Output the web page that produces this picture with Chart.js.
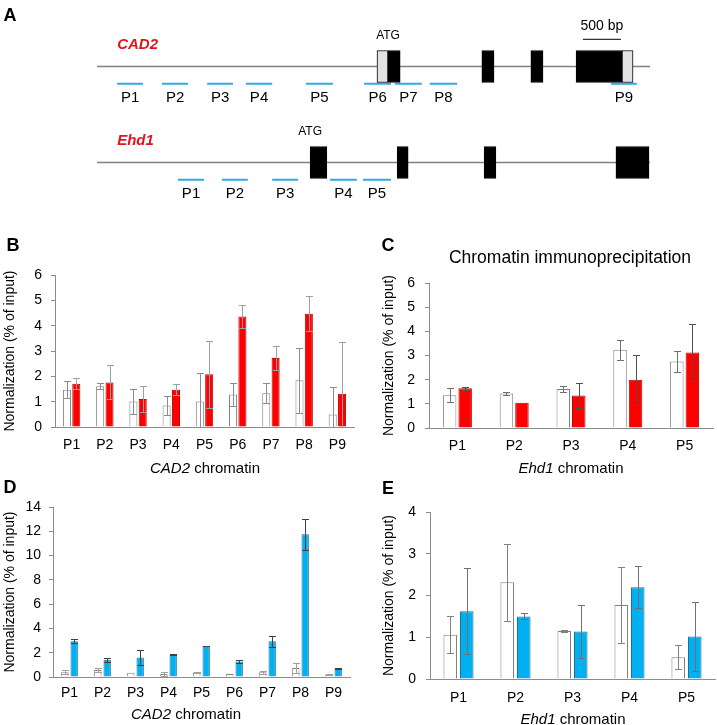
<!DOCTYPE html>
<html>
<head>
<meta charset="utf-8">
<script src="https://cdn.jsdelivr.net/npm/chart.js@4.4.1/dist/chart.umd.min.js"></script>
<style>
  body { margin: 0; background: #fff; }
  #fig { position: relative; width: 717px; height: 725px; overflow: hidden; font-family: "Liberation Sans", Arial, sans-serif; color: #000; }
  canvas { position: absolute; }
  .lbl { position: absolute; transform: translate(-50%, -50%); white-space: nowrap; }
  .panel { font-weight: bold; font-size: 18px; }
  .axt { font-size: 15px; }
</style>
</head>
<body>
<div id="fig">
  <canvas id="genes" width="717" height="225" style="left:0;top:0"></canvas>
  <canvas id="chartB" width="360" height="240" style="left:0;top:240px"></canvas>
  <canvas id="chartC" width="357" height="240" style="left:360px;top:240px"></canvas>
  <canvas id="chartD" width="360" height="247" style="left:0;top:478px"></canvas>
  <canvas id="chartE" width="357" height="247" style="left:360px;top:478px"></canvas>

  <div class="lbl panel" style="left:10px;top:15px">A</div>
  <div class="lbl panel" style="left:13px;top:245px">B</div>
  <div class="lbl panel" style="left:388px;top:245px">C</div>
  <div class="lbl panel" style="left:10px;top:487px">D</div>
  <div class="lbl panel" style="left:388px;top:488px">E</div>

  <div class="lbl" style="left:570px;top:257px;font-size:17.5px">Chromatin immunoprecipitation</div>
  <div class="lbl axt" style="left:205px;top:467px"><i>CAD2</i> chromatin</div>
  <div class="lbl axt" style="left:571px;top:467px"><i>Ehd1</i> chromatin</div>
  <div class="lbl axt" style="left:186px;top:713px"><i>CAD2</i> chromatin</div>
  <div class="lbl axt" style="left:573px;top:718px"><i>Ehd1</i> chromatin</div>
</div>

<script>
// ---- gene maps (panel A), positions in bp ----
const geneNames = ['CAD2', 'Ehd1'];
const geneLength = 7280;
const cadExonStart = [3685, 3830, 5065, 5710, 6305, 6910];
const cadExonEnd   = [3830, 3990, 5225, 5870, 6910, 7055];
const cadExonUtr   = [true, false, false, false, false, true];
const cadProbeStart = [265, 855, 1450, 1960, 2750, 3515, 3920, 4380, 6765];
const cadProbeEnd   = [605, 1200, 1790, 2305, 3105, 3870, 4275, 4740, 7105];
const ehdExonStart = [2805, 3950, 5095, 6830];
const ehdExonEnd   = [3025, 4095, 5250, 7265];
const ehdExonUtr   = [false, false, false, false];
const ehdProbeStart = [1065, 1645, 2305, 3065, 3500];
const ehdProbeEnd   = [1410, 1985, 2645, 3420, 3870];
const atgPos = [3830, 2805];
const scaleBar = [6395, 6895];

// ---- ChIP values (% of input) ----
const cadProbes = ['P1', 'P2', 'P3', 'P4', 'P5', 'P6', 'P7', 'P8', 'P9'];
const ehdProbes = ['P1', 'P2', 'P3', 'P4', 'P5'];

const cadCtrlB    = [1.47, 1.61, 1.01, 0.85, 1.01, 1.28, 1.33, 1.85, 0.49];
const cadCtrlErrB = [0.33, 0.12, 0.49, 0.38, 1.12, 0.45, 0.39, 1.28, 1.08];
const cadRedB     = [1.71, 1.76, 1.11, 1.47, 2.08, 4.36, 2.72, 4.47, 1.31];
const cadRedErrB  = [0.22, 0.67, 0.50, 0.22, 1.32, 0.47, 0.47, 0.69, 2.06];

const ehdCtrlC    = [1.36, 1.43, 1.61, 3.24, 2.75];
const ehdCtrlErrC = [0.29, 0.07, 0.12, 0.41, 0.42];
const ehdRedC     = [1.65, 1.04, 1.35, 2.00, 3.12];
const ehdRedErrC  = [0.06, 0, 0.53, 1.04, 1.17];

const cadCtrlD     = [0.39, 0.58, 0.36, 0.25, 0.39, 0.25, 0.39, 0.75, 0.19];
const cadCtrlErrD  = [0.15, 0.14, 0, 0.15, 0.05, 0, 0.14, 0.39, 0.04];
const cadBlueD     = [2.94, 1.42, 1.61, 1.83, 2.56, 1.28, 2.94, 11.75, 0.72];
const cadBlueErrD  = [0.15, 0.16, 0.64, 0.03, 0.03, 0.14, 0.47, 1.25, 0.03];

const ehdCtrlE    = [1.06, 2.32, 1.15, 1.77, 0.52];
const ehdCtrlErrE = [0.44, 0.92, 0.02, 0.91, 0.29];
const ehdBlueE    = [1.62, 1.50, 1.14, 2.20, 1.02];
const ehdBlueErrE = [1.03, 0.07, 0.64, 0.51, 0.82];

Chart.defaults.font.family = '"Liberation Sans", Arial, sans-serif';
Chart.defaults.color = '#000';

const axisColor = '#8c8c8c';
const probeOffset = 0.18;

// ---- panel A ----
const exonBars = [];
const exonColors = [];
[[cadExonStart, cadExonEnd, cadExonUtr], [ehdExonStart, ehdExonEnd, ehdExonUtr]].forEach(([s, e, utr], row) => {
  s.forEach((v, i) => {
    exonBars.push({x: [v, e[i]], y: row});
    exonColors.push(utr[i] ? '#e2e2e2' : '#000');
  });
});

const backbone = [];
geneNames.forEach((g, row) => {
  backbone.push({x: 0, y: row}, {x: geneLength, y: row}, {x: geneLength, y: null});
});

const probeSegs = [];
[[cadProbeStart, cadProbeEnd], [ehdProbeStart, ehdProbeEnd]].forEach(([s, e], row) => {
  s.forEach((v, i) => {
    probeSegs.push({x: v, y: row + probeOffset}, {x: e[i], y: row + probeOffset}, {x: e[i], y: null});
  });
});

const geneText = {
  id: 'geneText',
  afterDraw(chart) {
    const {ctx, scales: {x, y}} = chart;
    ctx.save();
    ctx.textBaseline = 'middle';
    geneNames.forEach((name, row) => {
      const yRow = y.getPixelForValue(row);
      ctx.fillStyle = '#e3141b';
      ctx.font = 'italic bold 15px "Liberation Sans", Arial';
      ctx.textAlign = 'left';
      ctx.fillText(name, x.getPixelForValue(cadProbeStart[0]), yRow - 22);

      ctx.fillStyle = '#000';
      ctx.textAlign = 'center';
      ctx.font = '12px "Liberation Sans", Arial';
      ctx.fillText('ATG', x.getPixelForValue(atgPos[row]), yRow - 31);

      const s = row === 0 ? cadProbeStart : ehdProbeStart;
      const e = row === 0 ? cadProbeEnd : ehdProbeEnd;
      ctx.font = '15px "Liberation Sans", Arial';
      s.forEach((v, i) => {
        ctx.fillText('P' + (i + 1), x.getPixelForValue((v + e[i]) / 2), y.getPixelForValue(row + probeOffset) + 14);
      });
    });
    ctx.font = '14px "Liberation Sans", Arial';
    ctx.fillText('500 bp', x.getPixelForValue((scaleBar[0] + scaleBar[1]) / 2), y.getPixelForValue(-0.283) - 13);
    ctx.restore();
  }
};

new Chart(document.getElementById('genes'), {
  type: 'line',
  data: {
    datasets: [
      {type: 'bar', indexAxis: 'y', data: exonBars, backgroundColor: exonColors,
       borderColor: '#000', borderWidth: 1, borderSkipped: false, barThickness: 32, order: 0},
      {data: backbone, borderColor: '#808080', borderWidth: 1.5, pointRadius: 0, order: 3},
      {data: probeSegs, borderColor: '#35a9df', borderWidth: 2, pointRadius: 0, order: 1},
      {data: [{x: scaleBar[0], y: -0.283}, {x: scaleBar[1], y: -0.283}], borderColor: '#000', borderWidth: 1, pointRadius: 0, order: 1}
    ]
  },
  options: {
    responsive: false,
    animation: false,
    layout: {padding: 0},
    plugins: {legend: {display: false}, tooltip: {enabled: false}},
    scales: {
      x: {type: 'linear', min: -1277, max: 8160, display: false},
      y: {type: 'linear', min: -0.458, max: 1.417, reverse: true, display: false}
    }
  },
  plugins: [geneText]
});

// ---- error bars ----
const errorBars = {
  id: 'errorBars',
  afterDatasetsDraw(chart) {
    const {ctx, chartArea, scales: {y}} = chart;
    ctx.save();
    ctx.beginPath();
    ctx.rect(chartArea.left, chartArea.top - 6, chartArea.width, chartArea.height + 6);
    ctx.clip();
    chart.data.datasets.forEach((ds, i) => {
      const meta = chart.getDatasetMeta(i);
      ctx.strokeStyle = ds.errColor;
      ctx.lineWidth = 1;
      meta.data.forEach((bar, j) => {
        const e = ds.err[j];
        if (!e) return;
        const v = ds.data[j];
        const top = Math.round(y.getPixelForValue(v + e)) + 0.5;
        const bot = Math.round(y.getPixelForValue(v - e)) + 0.5;
        const x = Math.round(bar.x) + 0.5;
        ctx.beginPath();
        ctx.moveTo(x, top); ctx.lineTo(x, bot);
        ctx.moveTo(x - 3.5, top); ctx.lineTo(x + 3.5, top);
        ctx.moveTo(x - 3.5, bot); ctx.lineTo(x + 3.5, bot);
        ctx.stroke();
      });
    });
    ctx.restore();
  }
};

function makePanel(id, labels, ctrl, ctrlErr, treat, treatErr, o) {
  return new Chart(document.getElementById(id), {
    type: 'bar',
    data: {
      labels: labels,
      datasets: [
        {data: ctrl, err: ctrlErr, errColor: o.ctrlErrColor, backgroundColor: '#fff', borderColor: '#808080',
         borderWidth: 1, categoryPercentage: o.catPct, barPercentage: o.barPct},
        {data: treat, err: treatErr, errColor: o.errColor, backgroundColor: o.fill, borderColor: o.edge,
         borderWidth: 1, categoryPercentage: o.catPct, barPercentage: o.barPct}
      ]
    },
    options: {
      responsive: false,
      animation: false,
      layout: {padding: {top: o.padTop, right: o.padRight, left: 0, bottom: 0}},
      plugins: {legend: {display: false}, tooltip: {enabled: false}},
      scales: {
        x: {
          grid: {display: false, drawTicks: false},
          border: {color: axisColor},
          ticks: {font: {size: 14}, padding: o.xPad},
          afterFit: s => { s.height = o.xHeight; }
        },
        y: {
          min: 0, max: o.yMax,
          ticks: {stepSize: o.step, font: {size: 14}, padding: o.yPad},
          grid: {drawOnChartArea: false, tickLength: 4, color: axisColor},
          border: {color: axisColor},
          title: {display: true, text: 'Normalization (% of input)', font: {size: 14}, padding: {top: o.titlePad, bottom: 0}},
          afterFit: s => { s.width = o.yWidth; }
        }
      }
    },
    plugins: [errorBars]
  });
}

makePanel('chartB', cadProbes, cadCtrlB, cadCtrlErrB, cadRedB, cadRedErrB, {
  fill: '#ff0000', edge: '#c00000', errColor: '#a0a0a0', ctrlErrColor: '#8c8c8c',
  yMax: 6, step: 1, yWidth: 55, padTop: 35, padRight: 6, xHeight: 53,
  xPad: 10, yPad: 9, titlePad: 2, catPct: 0.563, barPct: 0.86
});
makePanel('chartC', ehdProbes, ehdCtrlC, ehdCtrlErrC, ehdRedC, ehdRedErrC, {
  fill: '#ff0000', edge: '#c00000', errColor: '#505050', ctrlErrColor: '#707070',
  yMax: 6, step: 1, yWidth: 69, padTop: 43, padRight: 4, xHeight: 52,
  xPad: 10, yPad: 10, titlePad: 21, catPct: 0.546, barPct: 0.87
});
makePanel('chartD', cadProbes, cadCtrlD, cadCtrlErrD, cadBlueD, cadBlueErrD, {
  fill: '#00b0f0', edge: '#1f6f96', errColor: '#404040', ctrlErrColor: '#a0a0a0',
  yMax: 14, step: 2, yWidth: 53, padTop: 29, padRight: 10, xHeight: 48,
  xPad: 8, yPad: 8, titlePad: 2, catPct: 0.567, barPct: 0.785
});
makePanel('chartE', ehdProbes, ehdCtrlE, ehdCtrlErrE, ehdBlueE, ehdBlueErrE, {
  fill: '#00b0f0', edge: '#1f6f96', errColor: '#707070', ctrlErrColor: '#808080',
  yMax: 4, step: 1, yWidth: 70, padTop: 34, padRight: 2, xHeight: 46,
  xPad: 11, yPad: 10, titlePad: 21, catPct: 0.58, barPct: 0.82
});
</script>
</body>
</html>
